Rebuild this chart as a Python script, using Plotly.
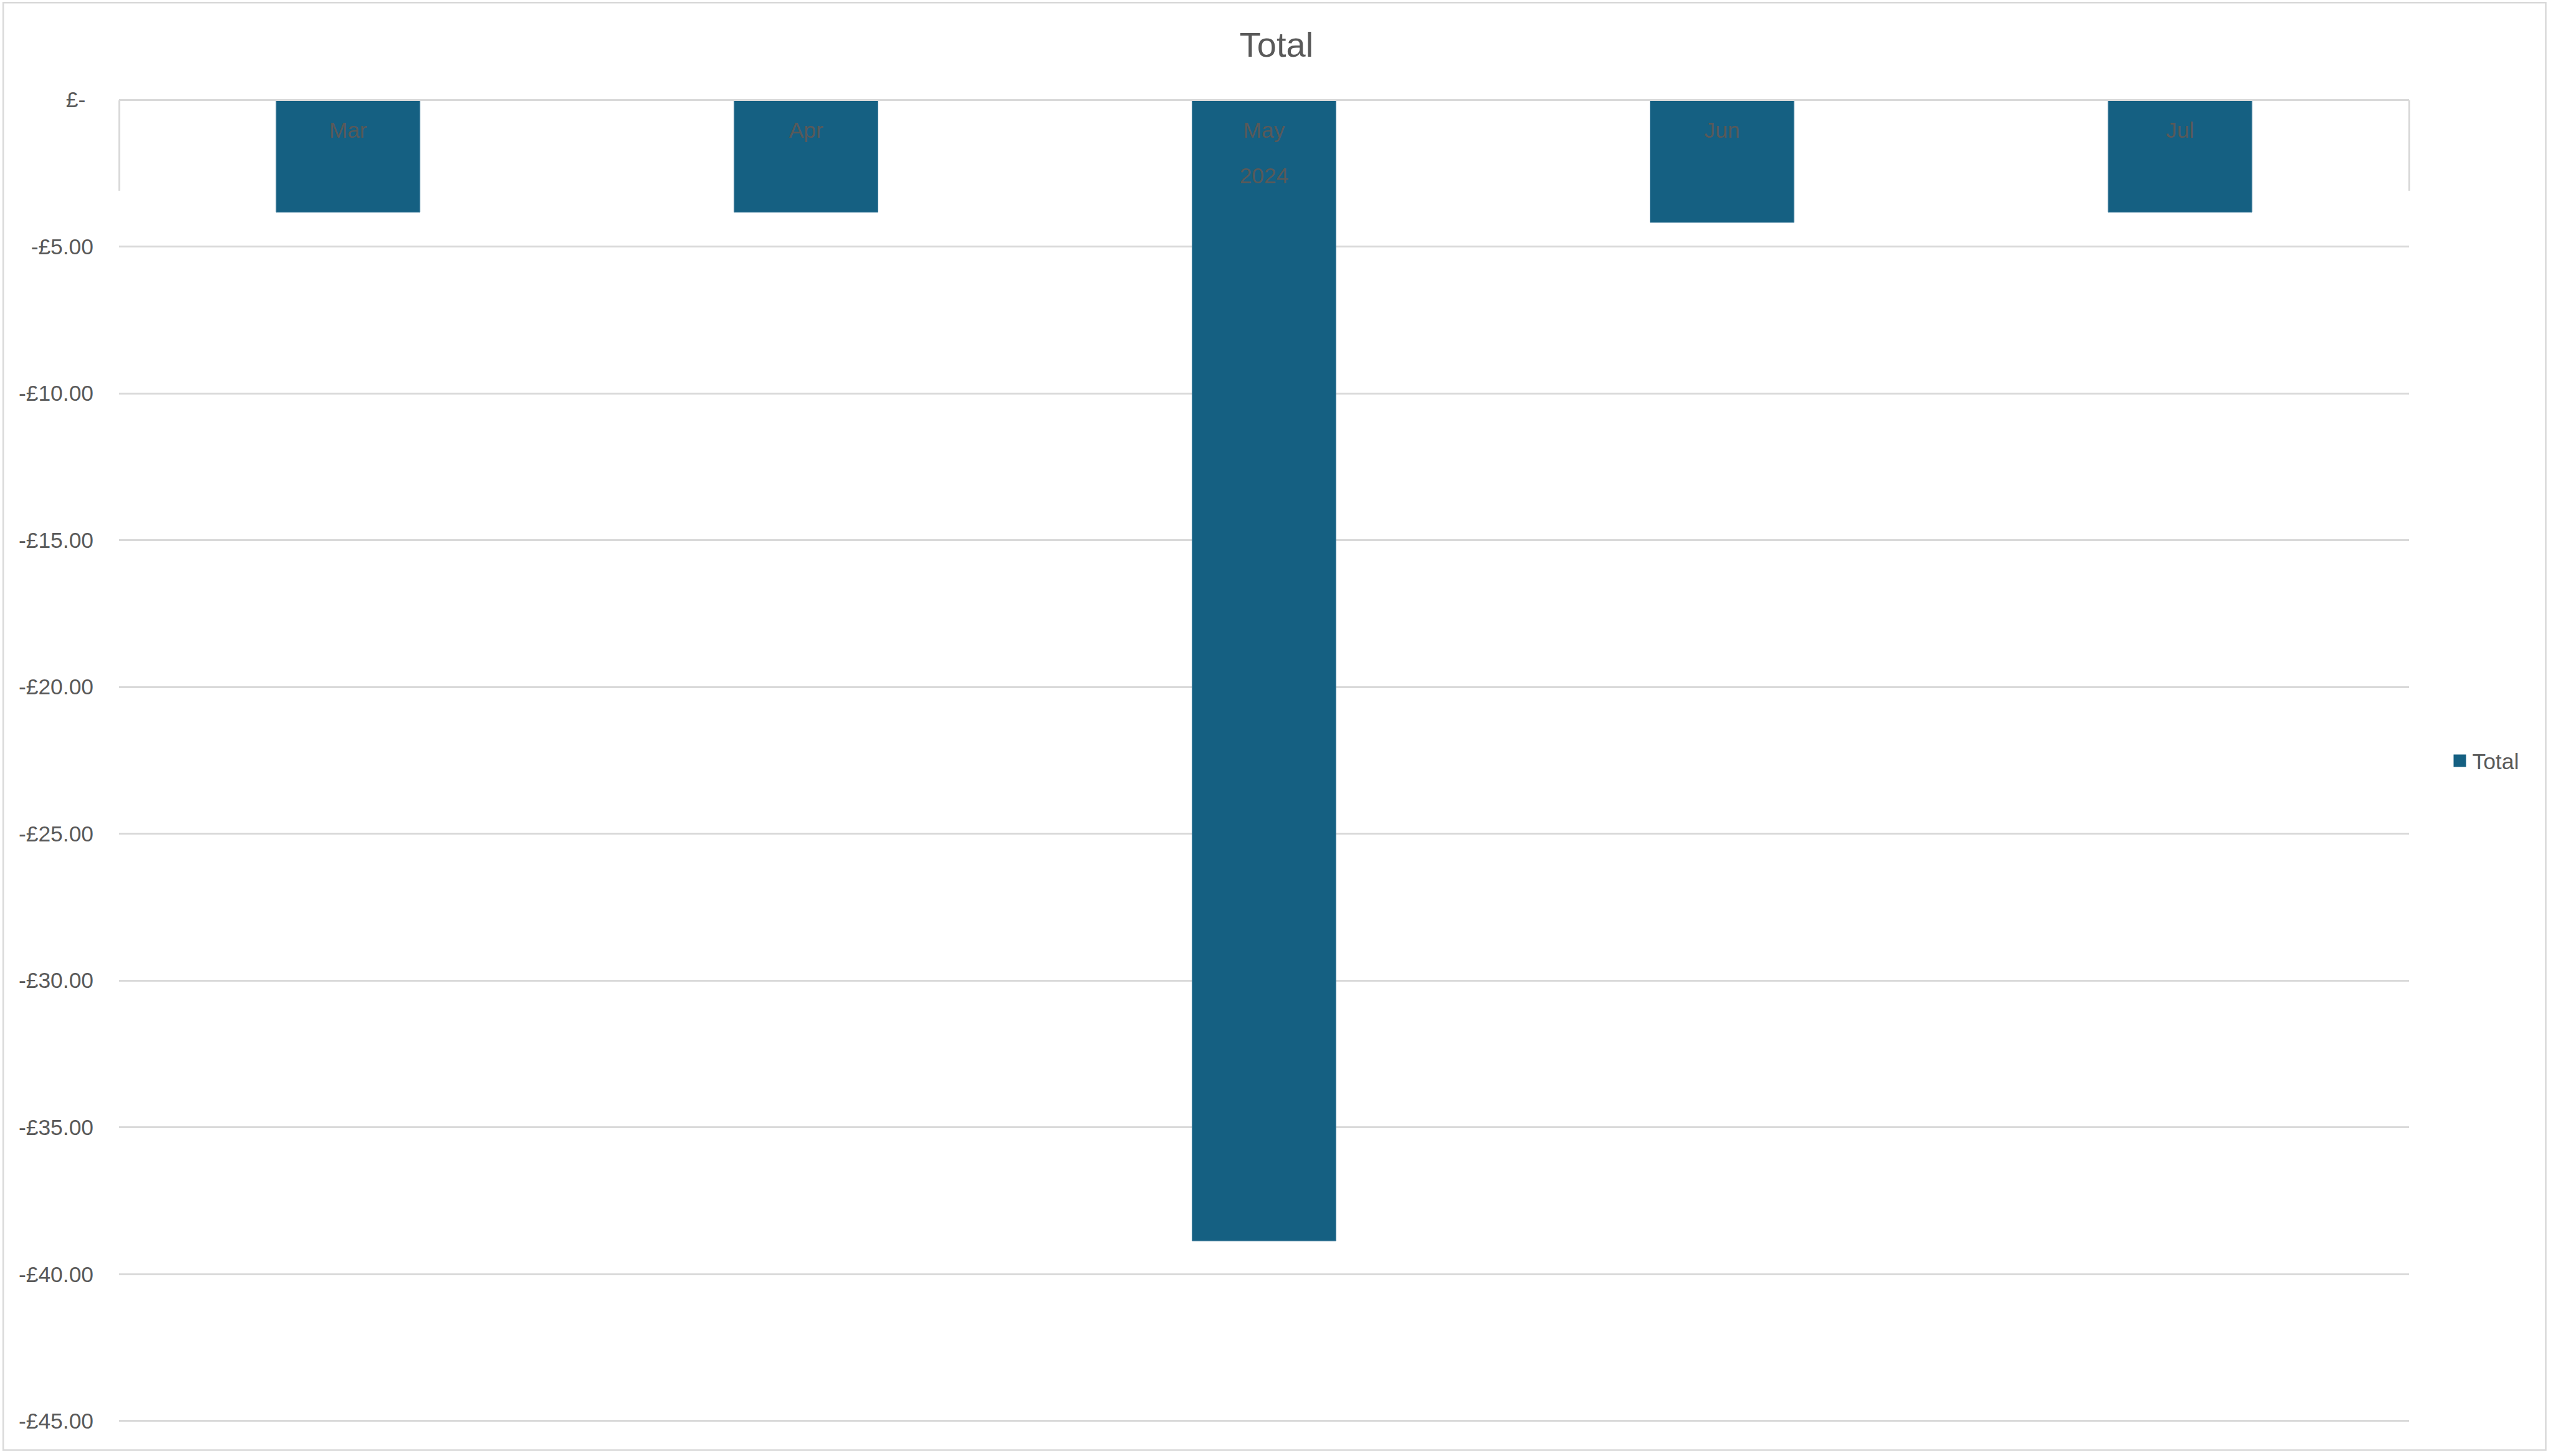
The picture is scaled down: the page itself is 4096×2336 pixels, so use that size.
import plotly.graph_objects as go

# ---- data ----
years = ["2024", "2024", "2024", "2024", "2024"]
months = ["Mar", "Apr", "May", "Jun", "Jul"]
totals = [-3.83, -3.83, -38.87, -4.18, -3.83]
series_name = "Total"
ytick_vals = [0, -5, -10, -15, -20, -25, -30, -35, -40, -45]
ytick_text = ["£-\u00a0\u200a", "-£5.00", "-£10.00", "-£15.00", "-£20.00", "-£25.00",
              "-£30.00", "-£35.00", "-£40.00", "-£45.00"]

# ---- style ----
W, H = 4096, 2336
L, R, T, B = 190.5, 230.5, 160.3, 53.6
BAR = "#156082"
TXT = "#595959"
GRID = "#d9d9d9"
FONT = "Liberation Sans, Arial, sans-serif"
FS = 35.4

pw = W - L - R
ph = H - T - B


def px2paper_x(px):
    return (px - L) / pw


def px2paper_y(py):
    return (H - B - py) / ph


year_groups = list(dict.fromkeys(years))

fig = go.Figure()
fig.add_trace(go.Bar(
    x=months, y=totals, name=series_name,
    marker=dict(color=BAR, line=dict(color="#4f87a4", width=1)),
    showlegend=False,
))
# empty helper traces so the year-level axis and the divider axis are drawn
fig.add_trace(go.Scatter(x=year_groups, y=[None] * len(year_groups), mode="markers",
                         xaxis="x3", yaxis="y", showlegend=False, hoverinfo="skip"))
fig.add_trace(go.Scatter(x=[None], y=[None], mode="markers",
                         xaxis="x4", yaxis="y", showlegend=False, hoverinfo="skip"))
# legend entry (larger square symbol than the default bar icon)
fig.add_trace(go.Scatter(
    x=[None], y=[None], mode="markers", name=series_name,
    marker=dict(symbol="square", size=16, color=BAR, line=dict(color=BAR, width=4)),
    xaxis="x2", yaxis="y2", showlegend=True,
))

fig.update_layout(
    width=W, height=H,
    margin=dict(l=L, r=R, t=T, b=B, autoexpand=False),
    paper_bgcolor="white", plot_bgcolor="white",
    font=dict(family=FONT, size=FS, color=TXT),
    bargap=0.686,
    title=dict(text="Total", x=0.5, xref="container", xanchor="center",
               y=1 - 71.4 / H, yref="container", yanchor="middle",
               font=dict(size=56, color=TXT, family=FONT)),
    # month labels (inner level of the category axis)
    xaxis=dict(type="category", anchor="free", position=1, side="bottom",
               showline=True, linecolor=GRID, linewidth=2.5, showgrid=False,
               ticks="", ticklabelstandoff=17,
               tickfont=dict(size=FS, color=TXT, family=FONT),
               zeroline=False),
    # year label (outer level of the category axis)
    xaxis3=dict(type="category", overlaying="x", anchor="free", position=1,
                side="bottom", range=[-0.5, len(year_groups) - 0.5],
                categoryorder="array", categoryarray=year_groups,
                showline=False, showgrid=False, zeroline=False, ticks="",
                ticklabelstandoff=98,
                tickfont=dict(size=FS, color=TXT, family=FONT)),
    # group dividers at the edges of the year group
    xaxis4=dict(type="linear", overlaying="x", anchor="free", position=1,
                side="bottom", range=[0, len(year_groups)],
                tickmode="array", tickvals=list(range(len(year_groups) + 1)),
                ticks="outside", ticklen=145, tickwidth=2.5, tickcolor=GRID,
                showticklabels=False, showline=False, showgrid=False,
                zeroline=False),
    yaxis=dict(range=[-45.05, 0], tickvals=ytick_vals, ticktext=ytick_text,
               showgrid=True, gridcolor=GRID, gridwidth=2.5, zeroline=False,
               showline=False, ticks="", ticklabelstandoff=40,
               tickfont=dict(size=FS, color=TXT, family=FONT)),
    xaxis2=dict(visible=False, overlaying="x", anchor="y2"),
    yaxis2=dict(visible=False, overlaying="y", anchor="x2"),
    legend=dict(x=px2paper_x(3927), xanchor="left", y=0.5, yanchor="middle",
                font=dict(size=FS, color=TXT, family=FONT),
                bgcolor="rgba(0,0,0,0)", itemclick=False),
    shapes=[dict(type="rect", xref="paper", yref="paper",
                 x0=px2paper_x(4.6), x1=px2paper_x(4085),
                 y0=px2paper_y(2327), y1=px2paper_y(4.6),
                 line=dict(color=GRID, width=2.5), fillcolor="rgba(0,0,0,0)",
                 layer="below")],
)

fig.write_html("out.html")
